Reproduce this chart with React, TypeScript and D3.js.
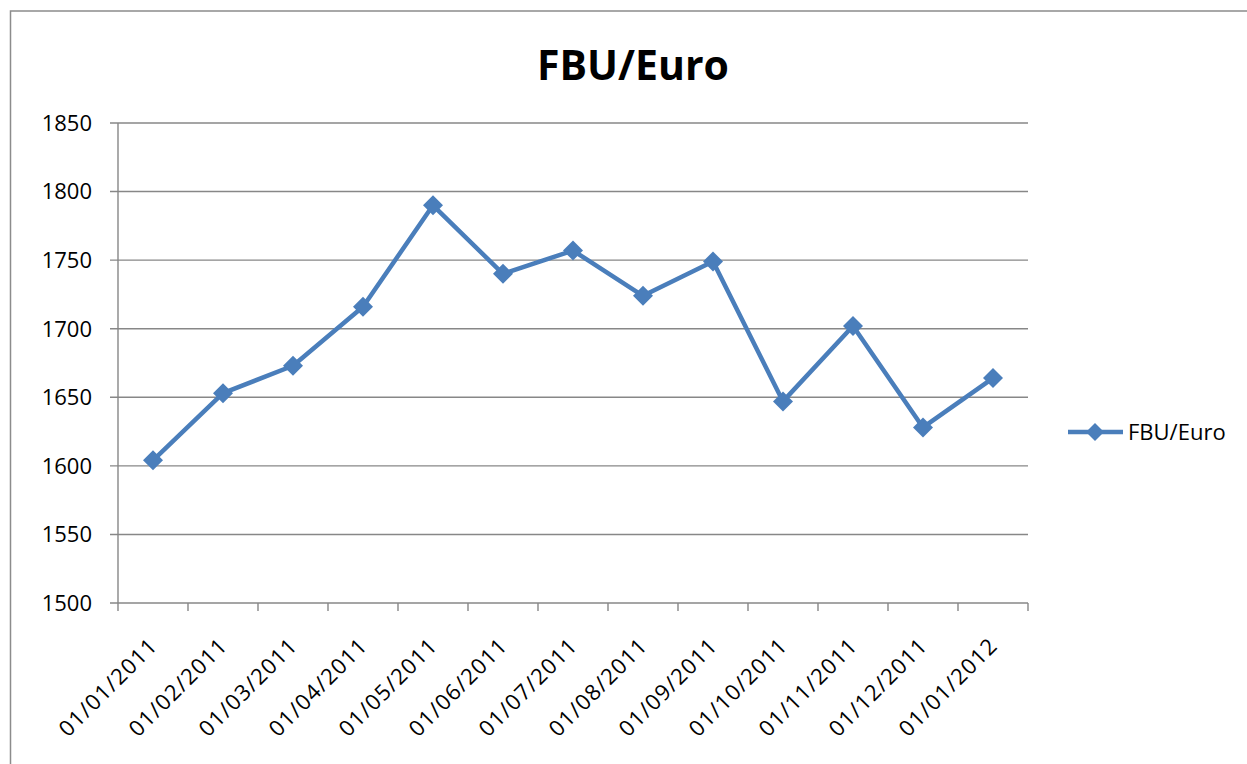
import * as d3 from "d3";

const dates = [
  "01/01/2011",
  "01/02/2011",
  "01/03/2011",
  "01/04/2011",
  "01/05/2011",
  "01/06/2011",
  "01/07/2011",
  "01/08/2011",
  "01/09/2011",
  "01/10/2011",
  "01/11/2011",
  "01/12/2011",
  "01/01/2012",
];
const rates = [1604, 1653, 1673, 1716, 1790, 1740, 1757, 1724, 1749, 1647, 1702, 1628, 1664];
const yTicks = [1500, 1550, 1600, 1650, 1700, 1750, 1800, 1850];
const seriesName = "FBU/Euro";

const WIDTH = 1247;
const HEIGHT = 764;
const FONT = "'Open Sans', 'Liberation Sans', sans-serif";
const BLUE = "#4a7ebb";
const GRID = "#878787";

export default function App() {
  const x = d3.scaleBand<string>().domain(dates).range([118, 1028]);
  const y = d3.scaleLinear().domain([1500, 1850]).range([603, 123]);
  const cx = (d: string) => (x(d) ?? 0) + x.bandwidth() / 2;

  const line = d3
    .line<number>()
    .x((_, i) => cx(dates[i]))
    .y((v) => y(v));

  const diamond = (px: number, py: number, r = 10) =>
    `M${px},${py - r}L${px + r},${py}L${px},${py + r}L${px - r},${py}Z`;

  const boundaries = dates.map((d) => x(d) ?? 0).concat([x.range()[1]]);

  return (
    <svg
      width={WIDTH}
      height={HEIGHT}
      style={{ position: "absolute", left: 0, top: 0, background: "#fff" }}
      fontFamily={FONT}
    >
      <rect x={10.5} y={11} width={WIDTH} height={HEIGHT} fill="#fff" stroke="#8c8c8c" strokeWidth={1.5} />

      <text x={633} y={80} textAnchor="middle" fontSize={41} fontWeight="bold" fill="#000">
        {seriesName}
      </text>

      {/* gridlines + y ticks */}
      {yTicks.map((t) => (
        <g key={t}>
          <line x1={110} x2={1028} y1={y(t)} y2={y(t)} stroke={GRID} strokeWidth={1.4} />
          <text x={92} y={y(t)} dy="0.36em" textAnchor="end" fontSize={22} fill="#000">
            {t}
          </text>
        </g>
      ))}

      {/* y axis */}
      <line x1={118} x2={118} y1={y(1850)} y2={y(1500)} stroke={GRID} strokeWidth={1.4} />

      {/* x axis ticks */}
      {boundaries.map((b, i) => (
        <line key={i} x1={b} x2={b} y1={y(1500)} y2={y(1500) + 8} stroke={GRID} strokeWidth={1.4} />
      ))}

      {dates.map((d) => (
        <text
          key={d}
          transform={`translate(${cx(d) + 6},${647}) rotate(-45)`}
          textAnchor="end"
          fontSize={22}
          letterSpacing={1.2}
          fill="#000"
        >
          {d}
        </text>
      ))}

      <path d={line(rates) ?? ""} fill="none" stroke={BLUE} strokeWidth={4.5} strokeLinejoin="round" />
      {rates.map((v, i) => (
        <path key={i} d={diamond(cx(dates[i]), y(v))} fill={BLUE} />
      ))}

      {/* legend */}
      <line x1={1068} x2={1123} y1={432} y2={432} stroke={BLUE} strokeWidth={4.5} />
      <path d={diamond(1095, 432, 9)} fill={BLUE} />
      <text x={1128} y={440} fontSize={22} fill="#000">
        {seriesName}
      </text>
    </svg>
  );
}
